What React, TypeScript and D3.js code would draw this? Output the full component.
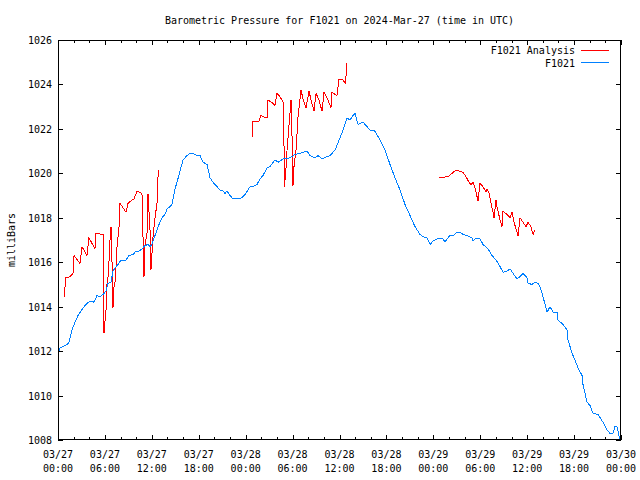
import React from "react";
import * as d3 from "d3";

const titleText = "Barometric Pressure for F1021 on 2024-Mar-27 (time in UTC)";
const yAxisLabel = "milliBars";
const seriesNames = ["F1021 Analysis", "F1021"];
const seriesColors = ["#ff0000", "#0080ff"];
const startDate = Date.UTC(2024, 2, 27, 0, 0, 0);
const hourSpan = 72;
const yDomain = [1008, 1026];
const yTickValues = [1008, 1010, 1012, 1014, 1016, 1018, 1020, 1022, 1024, 1026];

// F1021 observed (hours since 03/27 00:00 UTC, mb)
const obsHours = [
  0, 0.26, 0.64, 1.15, 1.41, 1.79, 2.17, 2.56, 2.94, 3.33, 3.84, 4.35, 4.6, 4.99, 5.37, 5.76, 6.14, 6.39, 6.78,
  7.03, 7.42, 7.67, 8.06, 8.69, 9.08, 9.59, 9.98, 10.36, 10.74, 11.13, 11.51, 11.77, 12.02, 12.28, 12.53, 12.79,
  13.05, 13.3, 13.68, 13.94, 14.32, 14.58, 14.96, 15.22, 15.6, 15.99, 16.5, 16.88, 17.27, 17.78, 18.16, 18.54,
  19.06, 19.44, 19.82, 20.34, 20.72, 21.1, 21.36, 21.61, 22.0, 22.38, 23.02, 23.53, 23.92, 24.56, 24.94, 25.45,
  25.83, 26.22, 26.73, 27.11, 27.75, 28.14, 28.78, 29.67, 30.31, 30.95, 31.85, 32.23, 32.87, 33.25, 33.76, 34.4,
  34.79, 35.43, 36.07, 36.45, 36.96, 37.34, 37.73, 37.98, 38.37, 39.01, 39.52, 39.9, 40.54, 41.18, 41.82, 42.46,
  43.1, 43.74, 44.38, 45.02, 45.66, 46.3, 46.68, 47.19, 47.58, 47.96, 48.47, 49.24, 49.49, 49.75, 50.13, 50.52,
  51.03, 51.41, 51.8, 52.31, 52.95, 53.08, 53.33, 53.97, 54.35, 54.99, 55.51, 56.02, 56.53, 56.91, 57.42, 57.81,
  58.19, 58.7, 59.09, 59.47, 59.98, 60.11, 60.62, 61.01, 61.39, 61.64, 62.03, 62.54, 62.92, 63.31, 63.82, 63.94,
  64.59, 65.1, 65.23, 65.74, 66.12, 66.5, 67.02, 67.14, 67.66, 68.04, 68.42, 69.06, 69.7, 70.21, 70.59, 70.98,
  71.23, 71.49, 71.74, 71.87,
];
const obsValues = [
  1011.9, 1012.15, 1012.2, 1012.3, 1012.4, 1012.95, 1013.3, 1013.6, 1013.8, 1014.0, 1014.2, 1014.25, 1014.2,
  1014.5, 1014.45, 1014.55, 1014.7, 1015.05, 1015.1, 1015.6, 1015.8, 1015.9, 1016.1, 1016.1, 1016.3, 1016.35,
  1016.5, 1016.5, 1016.6, 1016.75, 1016.8, 1016.7, 1016.8, 1017.1, 1017.3, 1017.6, 1017.8, 1018.0, 1018.15,
  1018.4, 1018.5, 1018.6, 1019.3, 1019.6, 1020.1, 1020.6, 1020.8, 1020.9, 1020.9, 1020.8, 1020.8, 1020.5, 1020.4,
  1019.8, 1019.6, 1019.4, 1019.25, 1019.2, 1019.1, 1019.2, 1019.0, 1018.85, 1018.85, 1018.9, 1019.05, 1019.4,
  1019.4, 1019.5, 1019.75, 1019.9, 1020.25, 1020.3, 1020.6, 1020.5, 1020.65, 1020.7, 1020.85, 1020.9, 1021.0,
  1020.8, 1020.7, 1020.8, 1020.65, 1020.75, 1020.8, 1021.05, 1021.6, 1021.95, 1022.5, 1022.4, 1022.6, 1022.7,
  1022.2, 1022.3, 1022.1, 1021.95, 1021.9, 1021.5, 1021.05, 1020.4, 1019.8, 1019.25, 1018.6, 1018.1, 1017.6,
  1017.25, 1017.15, 1017.1, 1016.8, 1016.95, 1017.05, 1017.05, 1016.9, 1017.05, 1017.2, 1017.2, 1017.35, 1017.35,
  1017.25, 1017.2, 1017.1, 1016.95, 1017.05, 1017.05, 1016.8, 1016.6, 1016.3, 1016.1, 1015.8, 1015.55, 1015.6,
  1015.7, 1015.5, 1015.25, 1015.35, 1015.5, 1015.3, 1015.05, 1015.0, 1015.1, 1015.05, 1014.9, 1014.45, 1013.75,
  1014.0, 1013.75, 1013.75, 1013.4, 1013.2, 1012.95, 1012.5, 1011.9, 1011.6, 1011.25, 1010.9, 1010.5, 1009.7,
  1009.55, 1009.2, 1009.15, 1008.8, 1008.45, 1008.3, 1008.3, 1008.6, 1008.6, 1008.2, 1008.05,
];

// F1021 Analysis (null = gap between analysis runs)
const anaHours = [
  0.77, 0.9, 1.02, 1.53, 1.92, 2.05, 2.81, 3.07, 3.71, 3.96, 4.73, 4.86, 5.76, 5.88, 6.14, 6.27, 6.39, 6.52, 6.65,
  6.78, 6.91, 7.03, 7.16, 7.29, 7.42, 7.55, 7.8, 7.93, 8.31, 8.7, 8.95, 9.46, 9.72, 10.1, 10.74, 10.87, 11.0,
  11.13, 11.38, 11.51, 11.77, 11.89, 12.02, 12.15, 12.41, 12.66, 12.79, 12.92,
  null,
  24.81, 24.94, 25.71, 25.96, 26.22, 26.73, 26.86, 27.5, 27.75, 28.01, 28.39, 28.78, 28.9, 28.97, 29.16, 29.29,
  29.54, 29.8, 29.93, 30.05, 30.18, 30.44, 30.69, 31.08, 31.33, 31.72, 32.1, 32.36, 32.74, 33.0, 33.38, 33.76,
  34.02, 34.4, 34.91, 35.04, 35.68, 35.94, 36.45, 36.71, 36.83, 36.96,
  null,
  48.73, 49.88, 50.9, 51.8, 52.18, 52.56, 52.82, 53.08, 53.33, 53.59, 53.71, 53.97, 54.35, 54.74, 54.87, 55.12,
  55.38, 55.63, 55.76, 56.02, 56.14, 56.53, 56.78, 56.91, 57.42, 57.81, 58.06, 58.32, 58.7, 58.83, 59.09, 59.47,
  59.86, 60.11, 60.49, 60.75, 61.01,
];
const anaValues = [
  1014.45, 1014.9, 1015.3, 1015.35, 1015.5, 1016.3, 1015.95, 1016.7, 1016.3, 1017.1, 1016.6, 1017.3, 1017.25,
  1012.8, 1013.85, 1015.05, 1015.3, 1016.0, 1017.0, 1017.6, 1016.0, 1013.95, 1014.9, 1015.1, 1015.8, 1016.7,
  1017.55, 1018.65, 1018.45, 1018.25, 1018.65, 1018.8, 1018.85, 1019.2, 1019.1, 1017.15, 1015.35, 1016.8, 1017.25,
  1019.05, 1017.45, 1015.65, 1016.4, 1017.15, 1018.0, 1018.65, 1019.85, 1020.15,
  null,
  1021.6, 1022.35, 1022.35, 1022.6, 1022.55, 1022.5, 1023.3, 1023.15, 1023.05, 1023.6, 1023.45, 1023.2, 1021.35,
  1019.4, 1020.25, 1021.05, 1022.15, 1023.3, 1021.65, 1019.45, 1020.3, 1021.05, 1022.5, 1023.75, 1023.35, 1022.95,
  1023.7, 1023.3, 1022.8, 1023.6, 1023.3, 1022.8, 1023.65, 1023.4, 1022.95, 1023.65, 1023.5, 1024.25, 1024.2,
  1024.05, 1024.35, 1024.95,
  null,
  1019.8, 1019.85, 1020.15, 1020.05, 1019.85, 1019.6, 1019.5, 1019.6, 1019.35, 1018.95, 1018.75, 1019.55, 1019.4,
  1019.15, 1019.3, 1019.1, 1018.65, 1018.25, 1018.0, 1018.8, 1018.5, 1017.9, 1017.6, 1018.3, 1018.15, 1018.0,
  1018.25, 1017.8, 1017.35, 1017.2, 1018.0, 1017.8, 1017.6, 1017.8, 1017.6, 1017.25, 1017.45,
];

const W = 640;
const H = 480;
const M = { left: 58, right: 19, top: 40, bottom: 40 };
const FONT = "'DejaVu Sans Mono', 'Liberation Mono', monospace";

export default function App() {
  const x = d3.scaleLinear().domain([0, hourSpan]).range([M.left, W - M.right]);
  const y = d3.scaleLinear().domain(yDomain).range([H - M.bottom, M.top]);
  const fmtDate = d3.utcFormat("%m/%d");
  const fmtTime = d3.utcFormat("%H:%M");

  const obs = obsHours.map((h, i) => ({ h, v: obsValues[i] }));
  const ana = anaHours.map((h, i) => ({ h, v: anaValues[i] }));

  const line = d3
    .line<{ h: number | null; v: number | null }>()
    .defined((d) => d.h != null && d.v != null)
    .x((d) => x(d.h as number))
    .y((d) => y(d.v as number));

  const minorTicks = d3.range(0, hourSpan + 0.001, 2);
  const majorTicks = d3.range(0, hourSpan + 0.001, 6);
  const x0 = M.left;
  const x1 = W - M.right;
  const y0 = M.top;
  const y1 = H - M.bottom;
  const crisp = (v: number) => Math.round(v) + 0.5;

  const legendLineX0 = 581;
  const legendLineX1 = 609;
  const legendTextX = 575;

  return (
    <svg
      width={W}
      height={H}
      style={{ position: "absolute", left: 0, top: 0, background: "#fff", display: "block" }}
      fontFamily={FONT}
      fontSize={10}
    >
      <rect x={0} y={0} width={W} height={H} fill="#fff" />
      <text x={(x0 + x1) / 2} y={24} textAnchor="middle" fill="#000">
        {titleText}
      </text>

      {/* y ticks + labels */}
      <g shapeRendering="crispEdges" stroke="#000">
        {yTickValues.map((t) => (
          <g key={t}>
            <line x1={x0} x2={x0 + 5} y1={crisp(y(t))} y2={crisp(y(t))} />
            <line x1={x1 - 5} x2={x1} y1={crisp(y(t))} y2={crisp(y(t))} />
          </g>
        ))}
        {minorTicks.map((t) => {
          const major = t % 6 === 0;
          const len = major ? 5 : 3;
          return (
            <g key={t}>
              <line x1={crisp(x(t))} x2={crisp(x(t))} y1={y1} y2={y1 - len} />
              <line x1={crisp(x(t))} x2={crisp(x(t))} y1={y0} y2={y0 + len} />
            </g>
          );
        })}
      </g>
      {yTickValues.map((t) => (
        <text key={t} x={52} y={y(t) + 4} textAnchor="end" fill="#000">
          {t}
        </text>
      ))}
      {majorTicks.map((t) => {
        const d = new Date(startDate + t * 3600 * 1000);
        return (
          <g key={t}>
            <text x={x(t)} y={458} textAnchor="middle" fill="#000">
              {fmtDate(d)}
            </text>
            <text x={x(t)} y={472} textAnchor="middle" fill="#000">
              {fmtTime(d)}
            </text>
          </g>
        );
      })}
      <text
        transform={`translate(15, ${(y0 + y1) / 2}) rotate(-90)`}
        textAnchor="middle"
        fill="#000"
      >
        {yAxisLabel}
      </text>

      {/* data */}
      <path d={line(ana) || ""} fill="none" stroke={seriesColors[0]} strokeWidth={1} shapeRendering="crispEdges" />
      <path d={line(obs) || ""} fill="none" stroke={seriesColors[1]} strokeWidth={1} shapeRendering="crispEdges" />

      {/* legend */}
      {seriesNames.map((name, i) => (
        <g key={name}>
          <text x={legendTextX} y={54 + i * 13} textAnchor="end" fill="#000">
            {name}
          </text>
          <line
            x1={legendLineX0}
            x2={legendLineX1}
            y1={50.5 + i * 12}
            y2={50.5 + i * 12}
            stroke={seriesColors[i]}
            shapeRendering="crispEdges"
          />
        </g>
      ))}

      {/* frame */}
      <rect
        x={x0 + 0.5}
        y={y0 + 0.5}
        width={x1 - x0 - 1}
        height={y1 - y0 - 1}
        fill="none"
        stroke="#000"
        shapeRendering="crispEdges"
      />
    </svg>
  );
}
